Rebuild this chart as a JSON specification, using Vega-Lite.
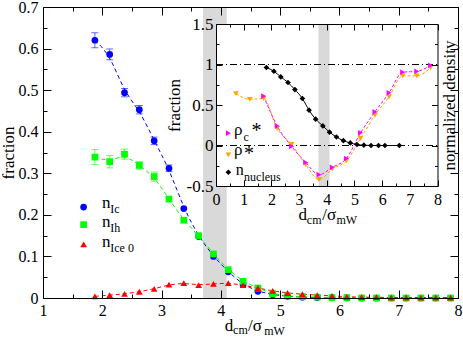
{
"$schema":"https://vega.github.io/schema/vega-lite/v6.json",
"width":415,"height":291,
"autosize":{"type":"none"},
"padding":{"left":43,"top":7,"right":5,"bottom":41},
"background":"white",
"config":{"view":{"stroke":null},
 "axis":{"domainColor":"black","tickColor":"black","labelColor":"black","titleColor":"black","labelFont":"Liberation Serif","titleFont":"Liberation Serif","labelFontSize":16,"titleFontSize":17,"titleFontWeight":"normal","grid":false,"labelFlush":false,"labelOverlap":false,"domainWidth":1,"tickWidth":1},
 "text":{"font":"Liberation Serif","color":"black"}},
"datasets":{
"main":[
{"series":"n_Ic","x":1.875,"y":0.62},{"series":"n_Ic","x":2.125,"y":0.586},{"series":"n_Ic","x":2.375,"y":0.494},{"series":"n_Ic","x":2.625,"y":0.453},{"series":"n_Ic","x":2.875,"y":0.378},{"series":"n_Ic","x":3.125,"y":0.312},{"series":"n_Ic","x":3.375,"y":0.215},{"series":"n_Ic","x":3.625,"y":0.148},{"series":"n_Ic","x":3.875,"y":0.1},{"series":"n_Ic","x":4.125,"y":0.063},{"series":"n_Ic","x":4.375,"y":0.032},{"series":"n_Ic","x":4.625,"y":0.016},{"series":"n_Ic","x":4.875,"y":0.008},{"series":"n_Ic","x":5.125,"y":0.004},{"series":"n_Ic","x":5.375,"y":0.002},{"series":"n_Ic","x":5.625,"y":0.001},{"series":"n_Ic","x":5.875,"y":0.001},{"series":"n_Ic","x":6.125,"y":0},{"series":"n_Ic","x":6.375,"y":0},{"series":"n_Ic","x":6.625,"y":0},{"series":"n_Ic","x":6.875,"y":0},{"series":"n_Ic","x":7.125,"y":0},{"series":"n_Ic","x":7.375,"y":0},{"series":"n_Ic","x":7.625,"y":0},{"series":"n_Ic","x":7.875,"y":0},
{"series":"n_Ih","x":1.875,"y":0.339},{"series":"n_Ih","x":2.125,"y":0.328},{"series":"n_Ih","x":2.375,"y":0.346},{"series":"n_Ih","x":2.625,"y":0.319},{"series":"n_Ih","x":2.875,"y":0.292},{"series":"n_Ih","x":3.125,"y":0.238},{"series":"n_Ih","x":3.375,"y":0.187},{"series":"n_Ih","x":3.625,"y":0.15},{"series":"n_Ih","x":3.875,"y":0.106},{"series":"n_Ih","x":4.125,"y":0.068},{"series":"n_Ih","x":4.375,"y":0.04},{"series":"n_Ih","x":4.625,"y":0.024},{"series":"n_Ih","x":4.875,"y":0.01},{"series":"n_Ih","x":5.125,"y":0.005},{"series":"n_Ih","x":5.375,"y":0.003},{"series":"n_Ih","x":5.625,"y":0.002},{"series":"n_Ih","x":5.875,"y":0.001},{"series":"n_Ih","x":6.125,"y":0.001},{"series":"n_Ih","x":6.375,"y":0},{"series":"n_Ih","x":6.625,"y":0},{"series":"n_Ih","x":6.875,"y":0},{"series":"n_Ih","x":7.125,"y":0},{"series":"n_Ih","x":7.375,"y":0},{"series":"n_Ih","x":7.625,"y":0},{"series":"n_Ih","x":7.875,"y":0},
{"series":"n_Ice0","x":1.875,"y":0.004},{"series":"n_Ice0","x":2.125,"y":0.007},{"series":"n_Ice0","x":2.375,"y":0.01},{"series":"n_Ice0","x":2.625,"y":0.015},{"series":"n_Ice0","x":2.875,"y":0.022},{"series":"n_Ice0","x":3.125,"y":0.032},{"series":"n_Ice0","x":3.375,"y":0.036},{"series":"n_Ice0","x":3.625,"y":0.031},{"series":"n_Ice0","x":3.875,"y":0.034},{"series":"n_Ice0","x":4.125,"y":0.036},{"series":"n_Ice0","x":4.375,"y":0.031},{"series":"n_Ice0","x":4.625,"y":0.024},{"series":"n_Ice0","x":4.875,"y":0.017},{"series":"n_Ice0","x":5.125,"y":0.012},{"series":"n_Ice0","x":5.375,"y":0.009},{"series":"n_Ice0","x":5.625,"y":0.007},{"series":"n_Ice0","x":5.875,"y":0.005},{"series":"n_Ice0","x":6.125,"y":0.003},{"series":"n_Ice0","x":6.375,"y":0.002},{"series":"n_Ice0","x":6.625,"y":0.002},{"series":"n_Ice0","x":6.875,"y":0.001},{"series":"n_Ice0","x":7.125,"y":0.001},{"series":"n_Ice0","x":7.375,"y":0.001},{"series":"n_Ice0","x":7.625,"y":0.001},{"series":"n_Ice0","x":7.875,"y":0.001}
],
"err":[
{"series":"n_Ic","x":1.875,"lo":0.602,"hi":0.638},{"series":"n_Ic","x":2.125,"lo":0.573,"hi":0.599},{"series":"n_Ic","x":2.375,"lo":0.484,"hi":0.504},{"series":"n_Ic","x":2.625,"lo":0.443,"hi":0.463},{"series":"n_Ic","x":2.875,"lo":0.369,"hi":0.387},{"series":"n_Ic","x":3.125,"lo":0.304,"hi":0.32},
{"series":"n_Ih","x":1.875,"lo":0.321,"hi":0.357},{"series":"n_Ih","x":2.125,"lo":0.313,"hi":0.343},{"series":"n_Ih","x":2.375,"lo":0.334,"hi":0.358},{"series":"n_Ih","x":2.625,"lo":0.31,"hi":0.328},{"series":"n_Ih","x":2.875,"lo":0.281,"hi":0.303}
],
"inset":[
{"series":"rho","x":0.72,"y":0.64},{"series":"rho","x":1.22,"y":0.57},{"series":"rho","x":1.72,"y":0.58},{"series":"rho","x":2.21,"y":0.21},{"series":"rho","x":2.73,"y":0.012},{"series":"rho","x":3.24,"y":-0.235},{"series":"rho","x":3.72,"y":-0.42},{"series":"rho","x":4.2,"y":-0.29},{"series":"rho","x":4.71,"y":-0.19},{"series":"rho","x":5.22,"y":0.086},{"series":"rho","x":5.74,"y":0.374},{"series":"rho","x":6.25,"y":0.6},{"series":"rho","x":6.74,"y":0.86},{"series":"rho","x":7.25,"y":0.86},{"series":"rho","x":7.75,"y":0.96},
{"series":"rho_c","x":1.72,"y":0.61},{"series":"rho_c","x":2.21,"y":0.24},{"series":"rho_c","x":2.73,"y":-0.01},{"series":"rho_c","x":3.24,"y":-0.21},{"series":"rho_c","x":3.72,"y":-0.36},{"series":"rho_c","x":4.2,"y":-0.27},{"series":"rho_c","x":4.71,"y":-0.16},{"series":"rho_c","x":5.22,"y":0.156},{"series":"rho_c","x":5.74,"y":0.415},{"series":"rho_c","x":6.25,"y":0.65},{"series":"rho_c","x":6.74,"y":0.905},{"series":"rho_c","x":7.25,"y":0.915},{"series":"rho_c","x":7.75,"y":0.99},
{"series":"nuc","x":1.82,"y":0.963},{"series":"nuc","x":2.09,"y":0.917},{"series":"nuc","x":2.34,"y":0.847},{"series":"nuc","x":2.6,"y":0.778},{"series":"nuc","x":2.85,"y":0.69},{"series":"nuc","x":3.12,"y":0.58},{"series":"nuc","x":3.36,"y":0.436},{"series":"nuc","x":3.6,"y":0.325},{"series":"nuc","x":3.86,"y":0.242},{"series":"nuc","x":4.1,"y":0.165},{"series":"nuc","x":4.35,"y":0.105},{"series":"nuc","x":4.6,"y":0.06},{"series":"nuc","x":4.85,"y":0.032},{"series":"nuc","x":5.09,"y":0.012},{"series":"nuc","x":5.34,"y":0.004},{"series":"nuc","x":5.6,"y":0},{"series":"nuc","x":5.87,"y":0},{"series":"nuc","x":6.1,"y":0},{"series":"nuc","x":6.62,"y":0}
]},
"resolve":{"scale":{"x":"independent","y":"independent"}},
"layer":[
{
"resolve":{"axis":{"x":"independent","y":"independent"}},
"layer":[
{"data":{"values":[{}]},"mark":{"type":"rect","color":"#d9d9d9"},
 "encoding":{"x":{"datum":3.7,"type":"quantitative","scale":{"domain":[1,8],"nice":false,"zero":false},"axis":{"orient":"bottom","values":[1,2,3,4,5,6,7,8],"tickSize":-8,"labelPadding":12,"format":"d","title":null,"zindex":1}},
  "x2":{"datum":4.1},
  "y":{"datum":0,"type":"quantitative","scale":{"domain":[0,0.7],"nice":false,"zero":false},"axis":{"orient":"left","values":[0,0.1,0.2,0.3,0.4,0.5,0.6,0.7],"tickSize":-8,"labelPadding":13,"format":".1~f","title":"fraction","titlePadding":1,"zindex":1}},
  "y2":{"datum":0.7}}},
{"data":{"name":"main"},"mark":{"type":"line","interpolate":"basis","strokeDash":[4,3],"strokeWidth":1},
 "encoding":{"x":{"field":"x","type":"quantitative","scale":{"domain":[1,8],"nice":false,"zero":false},"axis":{"orient":"top","values":[1,2,3,4,5,6,7,8],"tickSize":-8,"labels":false,"title":null,"zindex":1}},
  "y":{"field":"y","type":"quantitative","scale":{"domain":[0,0.7],"nice":false,"zero":false},"axis":{"orient":"right","values":[0,0.1,0.2,0.3,0.4,0.5,0.6,0.7],"tickSize":-8,"labels":false,"title":null,"zindex":1}},
  "color":{"field":"series","type":"nominal","scale":{"domain":["n_Ic","n_Ih","n_Ice0","rho_c","rho","nuc"],"range":["#0000ff","#00ff00","#ff0000","#ff00ff","#ffa500","#000000"]},"legend":null}}},
{"data":{"name":"err"},"mark":{"type":"rule","strokeWidth":1,"opacity":0.6},
 "encoding":{"x":{"field":"x","type":"quantitative","scale":{"domain":[1,8],"nice":false,"zero":false},"axis":{"orient":"bottom","values":[1.5,2.5,3.5,4.5,5.5,6.5,7.5],"tickSize":-4,"labels":false,"domain":false,"title":null,"zindex":1}},
  "y":{"field":"lo","type":"quantitative","scale":{"domain":[0,0.7],"nice":false,"zero":false},"axis":{"orient":"left","values":[0.05,0.15,0.25,0.35,0.45,0.55,0.65],"tickSize":-4,"labels":false,"domain":false,"title":null,"zindex":1}},
  "y2":{"field":"hi"},
  "color":{"field":"series","type":"nominal","scale":{"domain":["n_Ic","n_Ih","n_Ice0","rho_c","rho","nuc"],"range":["#0000ff","#00ff00","#ff0000","#ff00ff","#ffa500","#000000"]},"legend":null}}},
{"data":{"name":"err"},"mark":{"type":"tick","orient":"horizontal","size":7,"thickness":1,"opacity":0.6},
 "encoding":{"x":{"field":"x","type":"quantitative","scale":{"domain":[1,8],"nice":false,"zero":false},"axis":{"orient":"top","values":[1.5,2.5,3.5,4.5,5.5,6.5,7.5],"tickSize":-4,"labels":false,"domain":false,"title":null,"zindex":1}},
  "y":{"field":"lo","type":"quantitative","scale":{"domain":[0,0.7],"nice":false,"zero":false},"axis":{"orient":"right","values":[0.05,0.15,0.25,0.35,0.45,0.55,0.65],"tickSize":-4,"labels":false,"domain":false,"title":null,"zindex":1}},
  "color":{"field":"series","type":"nominal","scale":{"domain":["n_Ic","n_Ih","n_Ice0","rho_c","rho","nuc"],"range":["#0000ff","#00ff00","#ff0000","#ff00ff","#ffa500","#000000"]},"legend":null}}},
{"data":{"name":"err"},"mark":{"type":"tick","orient":"horizontal","size":7,"thickness":1,"opacity":0.6},
 "encoding":{"x":{"field":"x","type":"quantitative","scale":{"domain":[1,8],"nice":false,"zero":false},"axis":null},
  "y":{"field":"hi","type":"quantitative","scale":{"domain":[0,0.7],"nice":false,"zero":false},"axis":null},
  "color":{"field":"series","type":"nominal","scale":{"domain":["n_Ic","n_Ih","n_Ice0","rho_c","rho","nuc"],"range":["#0000ff","#00ff00","#ff0000","#ff00ff","#ffa500","#000000"]},"legend":null}}},
{"data":{"name":"main"},"mark":{"type":"point","filled":true,"opacity":1,"size":45},
 "encoding":{"x":{"field":"x","type":"quantitative","scale":{"domain":[1,8],"nice":false,"zero":false},"axis":null},
  "y":{"field":"y","type":"quantitative","scale":{"domain":[0,0.7],"nice":false,"zero":false},"axis":null},
  "color":{"field":"series","type":"nominal","scale":{"domain":["n_Ic","n_Ih","n_Ice0","rho_c","rho","nuc"],"range":["#0000ff","#00ff00","#ff0000","#ff00ff","#ffa500","#000000"]},"legend":null},
  "shape":{"field":"series","type":"nominal","scale":{"domain":["n_Ic","n_Ih","n_Ice0","rho_c","rho","nuc"],"range":["circle","square","triangle-up","triangle-right","triangle-down","diamond"]},"legend":null}}},
{"data":{"values":[{}]},"mark":{"type":"point","filled":true,"opacity":1,"size":45,"shape":"circle","color":"#0000ff"},
 "encoding":{"x":{"datum":1.685,"type":"quantitative","scale":{"domain":[1,8],"nice":false,"zero":false},"axis":null},"y":{"datum":0.2188,"type":"quantitative","scale":{"domain":[0,0.7],"nice":false,"zero":false},"axis":null}}},
{"data":{"values":[{}]},"mark":{"type":"point","filled":true,"opacity":1,"size":45,"shape":"square","color":"#00ff00"},
 "encoding":{"x":{"datum":1.685,"type":"quantitative","scale":{"domain":[1,8],"nice":false,"zero":false},"axis":null},"y":{"datum":0.1764,"type":"quantitative","scale":{"domain":[0,0.7],"nice":false,"zero":false},"axis":null}}},
{"data":{"values":[{}]},"mark":{"type":"point","filled":true,"opacity":1,"size":45,"shape":"triangle-up","color":"#ff0000"},
 "encoding":{"x":{"datum":1.685,"type":"quantitative","scale":{"domain":[1,8],"nice":false,"zero":false},"axis":null},"y":{"datum":0.1288,"type":"quantitative","scale":{"domain":[0,0.7],"nice":false,"zero":false},"axis":null}}},
{"data":{"values":[{}]},"mark":{"type":"text","text":"n","align":"left","baseline":"alphabetic","fontSize":17},
 "encoding":{"x":{"datum":1.995,"type":"quantitative","scale":{"domain":[1,8],"nice":false,"zero":false},"axis":null},"y":{"datum":0.2154,"type":"quantitative","scale":{"domain":[0,0.7],"nice":false,"zero":false},"axis":null}}},
{"data":{"values":[{}]},"mark":{"type":"text","text":"Ic","align":"left","baseline":"alphabetic","fontSize":12},
 "encoding":{"x":{"datum":2.135,"type":"quantitative","scale":{"domain":[1,8],"nice":false,"zero":false},"axis":null},"y":{"datum":0.2034,"type":"quantitative","scale":{"domain":[0,0.7],"nice":false,"zero":false},"axis":null}}},
{"data":{"values":[{}]},"mark":{"type":"text","text":"n","align":"left","baseline":"alphabetic","fontSize":17},
 "encoding":{"x":{"datum":1.995,"type":"quantitative","scale":{"domain":[1,8],"nice":false,"zero":false},"axis":null},"y":{"datum":0.1714,"type":"quantitative","scale":{"domain":[0,0.7],"nice":false,"zero":false},"axis":null}}},
{"data":{"values":[{}]},"mark":{"type":"text","text":"Ih","align":"left","baseline":"alphabetic","fontSize":12},
 "encoding":{"x":{"datum":2.135,"type":"quantitative","scale":{"domain":[1,8],"nice":false,"zero":false},"axis":null},"y":{"datum":0.1577,"type":"quantitative","scale":{"domain":[0,0.7],"nice":false,"zero":false},"axis":null}}},
{"data":{"values":[{}]},"mark":{"type":"text","text":"n","align":"left","baseline":"alphabetic","fontSize":17},
 "encoding":{"x":{"datum":1.995,"type":"quantitative","scale":{"domain":[1,8],"nice":false,"zero":false},"axis":null},"y":{"datum":0.1233,"type":"quantitative","scale":{"domain":[0,0.7],"nice":false,"zero":false},"axis":null}}},
{"data":{"values":[{}]},"mark":{"type":"text","text":"Ice 0","align":"left","baseline":"alphabetic","fontSize":12},
 "encoding":{"x":{"datum":2.135,"type":"quantitative","scale":{"domain":[1,8],"nice":false,"zero":false},"axis":null},"y":{"datum":0.1113,"type":"quantitative","scale":{"domain":[0,0.7],"nice":false,"zero":false},"axis":null}}},
{"data":{"values":[{}]},"mark":{"type":"text","text":"d","align":"left","baseline":"alphabetic","fontSize":17},
 "encoding":{"x":{"datum":4.066,"type":"quantitative","scale":{"domain":[1,8],"nice":false,"zero":false},"axis":null},"y":{"datum":-0.0803,"type":"quantitative","scale":{"domain":[0,0.7],"nice":false,"zero":false},"axis":null}}},
{"data":{"values":[{}]},"mark":{"type":"text","text":"cm","align":"left","baseline":"alphabetic","fontSize":12},
 "encoding":{"x":{"datum":4.206,"type":"quantitative","scale":{"domain":[1,8],"nice":false,"zero":false},"axis":null},"y":{"datum":-0.087,"type":"quantitative","scale":{"domain":[0,0.7],"nice":false,"zero":false},"axis":null}}},
{"data":{"values":[{}]},"mark":{"type":"text","text":"/σ","align":"left","baseline":"alphabetic","fontSize":17},
 "encoding":{"x":{"datum":4.457,"type":"quantitative","scale":{"domain":[1,8],"nice":false,"zero":false},"axis":null},"y":{"datum":-0.0803,"type":"quantitative","scale":{"domain":[0,0.7],"nice":false,"zero":false},"axis":null}}},
{"data":{"values":[{}]},"mark":{"type":"text","text":"mW","align":"left","baseline":"alphabetic","fontSize":12},
 "encoding":{"x":{"datum":4.73,"type":"quantitative","scale":{"domain":[1,8],"nice":false,"zero":false},"axis":null},"y":{"datum":-0.088,"type":"quantitative","scale":{"domain":[0,0.7],"nice":false,"zero":false},"axis":null}}}
]
},
{
"resolve":{"axis":{"x":"independent","y":"independent"}},
"layer":[
{"data":{"values":[{}]},"mark":{"type":"rect","color":"white"},
 "encoding":{"x":{"datum":0,"type":"quantitative","scale":{"domain":[0,8],"range":[173,394.5],"nice":false,"zero":false},"axis":{"orient":"bottom","offset":-112,"values":[0,1,2,3,4,5,6,7,8],"tickSize":-6,"labelPadding":11,"format":"d","title":null,"zindex":2}},
  "x2":{"datum":8},
  "y":{"datum":-0.5,"type":"quantitative","scale":{"domain":[-0.5,1.5],"range":[179,17],"nice":false,"zero":false},"axis":{"orient":"left","offset":-173,"values":[-0.5,0,0.5,1,1.5],"tickSize":-6,"labelPadding":9,"labelFontSize":17,"labelExpr":"datum.value < 0 ? '-' + format(-datum.value, '~g') : format(datum.value, '~g')","title":"fraction","titlePadding":3,"zindex":2}},
  "y2":{"datum":1.5}}},
{"data":{"values":[{}]},"mark":{"type":"rect","color":"#d9d9d9"},
 "encoding":{"x":{"datum":3.7,"type":"quantitative","scale":{"domain":[0,8],"range":[173,394.5],"nice":false,"zero":false},"axis":{"orient":"top","offset":-17,"values":[0,1,2,3,4,5,6,7,8],"tickSize":-6,"labels":false,"title":null,"zindex":2}},
  "x2":{"datum":4.1},
  "y":{"datum":-0.5,"type":"quantitative","scale":{"domain":[-0.5,1.5],"range":[179,17],"nice":false,"zero":false},"axis":{"orient":"right","offset":-20.5,"values":[-0.5,0,0.5,1,1.5],"tickSize":-6,"labels":false,"title":"normalized density","titleAngle":270,"titlePadding":20,"zindex":2}},
  "y2":{"datum":1.5}}},
{"data":{"values":[{}]},"mark":{"type":"rule","color":"black","strokeWidth":1,"strokeDash":[7,3,1,3]},
 "encoding":{"x":{"datum":0,"type":"quantitative","scale":{"domain":[0,8],"range":[173,394.5],"nice":false,"zero":false},"axis":{"orient":"bottom","offset":-112,"values":[0.5,1.5,2.5,3.5,4.5,5.5,6.5,7.5],"tickSize":-3,"labels":false,"domain":false,"title":null,"zindex":2}},
  "x2":{"datum":8},
  "y":{"datum":1,"type":"quantitative","scale":{"domain":[-0.5,1.5],"range":[179,17],"nice":false,"zero":false},"axis":{"orient":"left","offset":-173,"values":[-0.25,0.25,0.75,1.25],"tickSize":-3,"labels":false,"domain":false,"title":null,"zindex":2}}}},
{"data":{"values":[{}]},"mark":{"type":"rule","color":"black","strokeWidth":1,"strokeDash":[7,3,1,3]},
 "encoding":{"x":{"datum":0,"type":"quantitative","scale":{"domain":[0,8],"range":[173,394.5],"nice":false,"zero":false},"axis":{"orient":"top","offset":-17,"values":[0.5,1.5,2.5,3.5,4.5,5.5,6.5,7.5],"tickSize":-3,"labels":false,"domain":false,"title":null,"zindex":2}},
  "x2":{"datum":8},
  "y":{"datum":0,"type":"quantitative","scale":{"domain":[-0.5,1.5],"range":[179,17],"nice":false,"zero":false},"axis":{"orient":"right","offset":-20.5,"values":[-0.25,0.25,0.75,1.25],"tickSize":-3,"labels":false,"domain":false,"title":null,"zindex":2}}}},
{"data":{"name":"inset"},"transform":[{"filter":{"field":"series","oneOf":["rho","rho_c"]}}],"mark":{"type":"line","interpolate":"monotone","strokeDash":[3,2],"strokeWidth":1},
 "encoding":{"x":{"field":"x","type":"quantitative","scale":{"domain":[0,8],"range":[173,394.5],"nice":false,"zero":false},"axis":null},
  "y":{"field":"y","type":"quantitative","scale":{"domain":[-0.5,1.5],"range":[179,17],"nice":false,"zero":false},"axis":null},
  "color":{"field":"series","type":"nominal","scale":{"domain":["n_Ic","n_Ih","n_Ice0","rho_c","rho","nuc"],"range":["#0000ff","#00ff00","#ff0000","#ff00ff","#ffa500","#000000"]},"legend":null}}},
{"data":{"name":"inset"},"transform":[{"filter":{"field":"series","equal":"nuc"}}],"mark":{"type":"line","interpolate":"monotone","strokeWidth":1,"color":"black"},
 "encoding":{"x":{"field":"x","type":"quantitative","scale":{"domain":[0,8],"range":[173,394.5],"nice":false,"zero":false},"axis":null},
  "y":{"field":"y","type":"quantitative","scale":{"domain":[-0.5,1.5],"range":[179,17],"nice":false,"zero":false},"axis":null}}},
{"data":{"name":"inset"},"mark":{"type":"point","filled":true,"opacity":1,"size":32},
 "encoding":{"x":{"field":"x","type":"quantitative","scale":{"domain":[0,8],"range":[173,394.5],"nice":false,"zero":false},"axis":null},
  "y":{"field":"y","type":"quantitative","scale":{"domain":[-0.5,1.5],"range":[179,17],"nice":false,"zero":false},"axis":null},
  "color":{"field":"series","type":"nominal","scale":{"domain":["n_Ic","n_Ih","n_Ice0","rho_c","rho","nuc"],"range":["#0000ff","#00ff00","#ff0000","#ff00ff","#ffa500","#000000"]},"legend":null},
  "shape":{"field":"series","type":"nominal","scale":{"domain":["n_Ic","n_Ih","n_Ice0","rho_c","rho","nuc"],"range":["circle","square","triangle-up","triangle-right","triangle-down","diamond"]},"legend":null}}},
{"data":{"values":[{}]},"mark":{"type":"point","filled":true,"opacity":1,"size":32,"shape":"triangle-right","color":"#ff00ff"},
 "encoding":{"x":{"datum":0.446,"type":"quantitative","scale":{"domain":[0,8],"range":[173,394.5],"nice":false,"zero":false},"axis":null},"y":{"datum":0.152,"type":"quantitative","scale":{"domain":[-0.5,1.5],"range":[179,17],"nice":false,"zero":false},"axis":null}}},
{"data":{"values":[{}]},"mark":{"type":"point","filled":true,"opacity":1,"size":32,"shape":"triangle-down","color":"#ffa500"},
 "encoding":{"x":{"datum":0.446,"type":"quantitative","scale":{"domain":[0,8],"range":[173,394.5],"nice":false,"zero":false},"axis":null},"y":{"datum":-0.116,"type":"quantitative","scale":{"domain":[-0.5,1.5],"range":[179,17],"nice":false,"zero":false},"axis":null}}},
{"data":{"values":[{}]},"mark":{"type":"point","filled":true,"opacity":1,"size":32,"shape":"diamond","color":"#000000"},
 "encoding":{"x":{"datum":0.446,"type":"quantitative","scale":{"domain":[0,8],"range":[173,394.5],"nice":false,"zero":false},"axis":null},"y":{"datum":-0.33,"type":"quantitative","scale":{"domain":[-0.5,1.5],"range":[179,17],"nice":false,"zero":false},"axis":null}}},
{"data":{"values":[{}]},"mark":{"type":"text","text":"ρ","align":"left","baseline":"alphabetic","fontSize":17},
 "encoding":{"x":{"datum":0.652,"type":"quantitative","scale":{"domain":[0,8],"range":[173,394.5],"nice":false,"zero":false},"axis":null},"y":{"datum":0.131,"type":"quantitative","scale":{"domain":[-0.5,1.5],"range":[179,17],"nice":false,"zero":false},"axis":null}}},
{"data":{"values":[{}]},"mark":{"type":"text","text":"c","align":"left","baseline":"alphabetic","fontSize":12},
 "encoding":{"x":{"datum":0.989,"type":"quantitative","scale":{"domain":[0,8],"range":[173,394.5],"nice":false,"zero":false},"axis":null},"y":{"datum":0.057,"type":"quantitative","scale":{"domain":[-0.5,1.5],"range":[179,17],"nice":false,"zero":false},"axis":null}}},
{"data":{"values":[{}]},"mark":{"type":"text","text":"*","align":"left","baseline":"alphabetic","fontSize":20},
 "encoding":{"x":{"datum":1.279,"type":"quantitative","scale":{"domain":[0,8],"range":[173,394.5],"nice":false,"zero":false},"axis":null},"y":{"datum":0.1,"type":"quantitative","scale":{"domain":[-0.5,1.5],"range":[179,17],"nice":false,"zero":false},"axis":null}}},
{"data":{"values":[{}]},"mark":{"type":"text","text":"ρ","align":"left","baseline":"alphabetic","fontSize":17},
 "encoding":{"x":{"datum":0.652,"type":"quantitative","scale":{"domain":[0,8],"range":[173,394.5],"nice":false,"zero":false},"axis":null},"y":{"datum":-0.123,"type":"quantitative","scale":{"domain":[-0.5,1.5],"range":[179,17],"nice":false,"zero":false},"axis":null}}},
{"data":{"values":[{}]},"mark":{"type":"text","text":"*","align":"left","baseline":"alphabetic","fontSize":20},
 "encoding":{"x":{"datum":1.014,"type":"quantitative","scale":{"domain":[0,8],"range":[173,394.5],"nice":false,"zero":false},"axis":null},"y":{"datum":-0.18,"type":"quantitative","scale":{"domain":[-0.5,1.5],"range":[179,17],"nice":false,"zero":false},"axis":null}}},
{"data":{"values":[{}]},"mark":{"type":"text","text":"n","align":"left","baseline":"alphabetic","fontSize":16},
 "encoding":{"x":{"datum":0.71,"type":"quantitative","scale":{"domain":[0,8],"range":[173,394.5],"nice":false,"zero":false},"axis":null},"y":{"datum":-0.363,"type":"quantitative","scale":{"domain":[-0.5,1.5],"range":[179,17],"nice":false,"zero":false},"axis":null}}},
{"data":{"values":[{}]},"mark":{"type":"text","text":"nucleus","align":"left","baseline":"alphabetic","fontSize":12},
 "encoding":{"x":{"datum":1.014,"type":"quantitative","scale":{"domain":[0,8],"range":[173,394.5],"nice":false,"zero":false},"axis":null},"y":{"datum":-0.437,"type":"quantitative","scale":{"domain":[-0.5,1.5],"range":[179,17],"nice":false,"zero":false},"axis":null}}},
{"data":{"values":[{}]},"mark":{"type":"text","text":"d","align":"left","baseline":"alphabetic","fontSize":17},
 "encoding":{"x":{"datum":2.98,"type":"quantitative","scale":{"domain":[0,8],"range":[173,394.5],"nice":false,"zero":false},"axis":null},"y":{"datum":-0.925,"type":"quantitative","scale":{"domain":[-0.5,1.5],"range":[179,17],"nice":false,"zero":false},"axis":null}}},
{"data":{"values":[{}]},"mark":{"type":"text","text":"cm","align":"left","baseline":"alphabetic","fontSize":12},
 "encoding":{"x":{"datum":3.28,"type":"quantitative","scale":{"domain":[0,8],"range":[173,394.5],"nice":false,"zero":false},"axis":null},"y":{"datum":-0.965,"type":"quantitative","scale":{"domain":[-0.5,1.5],"range":[179,17],"nice":false,"zero":false},"axis":null}}},
{"data":{"values":[{}]},"mark":{"type":"text","text":"/σ","align":"left","baseline":"alphabetic","fontSize":17},
 "encoding":{"x":{"datum":3.84,"type":"quantitative","scale":{"domain":[0,8],"range":[173,394.5],"nice":false,"zero":false},"axis":null},"y":{"datum":-0.925,"type":"quantitative","scale":{"domain":[-0.5,1.5],"range":[179,17],"nice":false,"zero":false},"axis":null}}},
{"data":{"values":[{}]},"mark":{"type":"text","text":"mW","align":"left","baseline":"alphabetic","fontSize":12},
 "encoding":{"x":{"datum":4.35,"type":"quantitative","scale":{"domain":[0,8],"range":[173,394.5],"nice":false,"zero":false},"axis":null},"y":{"datum":-0.965,"type":"quantitative","scale":{"domain":[-0.5,1.5],"range":[179,17],"nice":false,"zero":false},"axis":null}}}
]
}
]
}
